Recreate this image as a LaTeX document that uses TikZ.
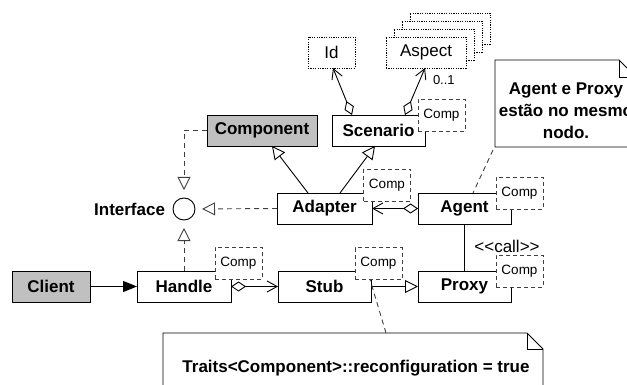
\documentclass[tikz,border=0pt]{standalone}
\usepackage{fontspec}
\setmainfont{Liberation Sans}
\usetikzlibrary{arrows.meta,calc}
\definecolor{boxgray}{HTML}{C0C0C0}
\definecolor{dashgray}{HTML}{404040}
\begin{document}
\begin{tikzpicture}[x=1pt,y=-1pt,line width=0.9pt,
  every node/.style={inner sep=0pt,outer sep=0pt},
  cls/.style={draw,fill=white,minimum height=31pt,font=\fontsize{17pt}{20pt}\selectfont\bfseries},
  grey/.style={fill=boxgray},
  compbox/.style={draw=dashgray,dashed,dash pattern=on 4pt off 3pt,fill=white,minimum width=47pt,minimum height=32pt,font=\fontsize{13.5pt}{16pt}\selectfont},
  dotbox/.style={draw,dash pattern=on 1.2pt off 1.2pt,fill=white,minimum height=31pt,font=\fontsize{17pt}{20pt}\selectfont},
  lbl/.style={font=\fontsize{17pt}{20pt}\selectfont},
  small/.style={font=\fontsize{13pt}{16pt}\selectfont},
  bold/.style={font=\fontsize{17pt}{22pt}\selectfont\bfseries},
  gen/.style={-{Triangle[length=13pt,width=13pt,fill=white]}},
  agg/.style={{Diamond[length=15pt,width=10pt,fill=white]}-{Straight Barb[length=10pt,width=11pt]}},
  dep/.style={dashed,dash pattern=on 5pt off 4pt,draw=dashgray},
  notebox/.style={draw=none}
]
\useasboundingbox (0,0) rectangle (627,385);

% interface circle
\node[circle,draw,minimum size=22pt] (iface) at (184,209) {};
\node[font=\fontsize{17pt}{20pt}\selectfont\bfseries,anchor=east] (ifacelbl) at (165,209) {Interface};

% classes
\node[cls,grey,minimum width=78pt] (client) at (51,286.5) {Client};
\node[cls,minimum width=94pt] (handle) at (184,286.5) {Handle};
\node[cls,minimum width=93pt] (stub) at (324.5,286.5) {Stub};
\node[cls,minimum width=93pt] (proxy) at (464.5,286.5) {Proxy};
\node[cls,minimum width=93pt] (agent) at (464.5,208.5) {Agent};
\node[cls,minimum width=95pt] (adapter) at (324.5,208.5) {Adapter};
\node[cls,grey,minimum width=110pt] (component) at (262,130.5) {Component};
\node[cls,minimum width=93pt] (scenario) at (378.5,130.5) {Scenario};

% Comp parameter boxes
\node[compbox] (scomp) at (441.5,115) {Comp};
\node[compbox] (adcomp) at (387,185) {Comp};
\node[compbox] (agcomp) at (519.5,193) {Comp};
\node[compbox] (prcomp) at (519.5,271) {Comp};
\node[compbox] (stcomp) at (378.5,263.5) {Comp};
\node[compbox] (hacomp) at (238.5,263) {Comp};

% Id and the stack of Aspect boxes
\node[dotbox,minimum width=47pt] (id) at (331.5,52.5) {Id};
\node[dotbox,minimum width=80pt] (aspect3) at (450,28.5) {};
\node[dotbox,minimum width=80pt] (aspect2) at (442,36.5) {};
\node[dotbox,minimum width=80pt] (aspect1) at (434,44.5) {};
\node[dotbox,minimum width=80pt] (aspect) at (426,52.5) {Aspect};
\node[small,anchor=west] (mult) at (433,80) {0..1};

% connectors
\draw[-{Triangle[length=14pt,width=11pt]}] (client.east) -- (handle.west);
\draw[agg] (handle.east) -- (stub.west);
\draw[gen] (stub.east) -- (proxy.west);
\draw (agent.south) -- (proxy.north);
\draw[agg] (agent.west) -- (adapter.east);
\draw[dep,gen,shorten >=7pt] (adapter.west) -- (iface.east);
\draw[dep,gen,shorten >=8pt] (handle.north) -- (iface.south);
\draw[dep,gen,shorten >=8pt] (component.west) -| (iface.north);
\draw[gen] ([xshift=-16.5pt]adapter.north) -- ([xshift=10pt]component.south);
\draw[gen] ([xshift=15.5pt]adapter.north) -- ([xshift=-3.5pt]scenario.south);
\draw[agg] ([xshift=-26.5pt]scenario.north) -- ([xshift=1.5pt]id.south);
\draw[agg] ([xshift=26.5pt]scenario.north) -- ([xshift=-1pt]aspect.south);

\node[lbl,anchor=center] (calllbl) at (507,246) {<{}<call>{}>};

% note attached to Agent
\node[notebox,minimum width=141pt,minimum height=87pt] (note1) at (565.5,103.5) {};
\draw[fill=white] (note1.south west) -- (note1.north west) -- ([xshift=-17pt]note1.north east)
  -- ([yshift=-17pt]note1.north east) -- (note1.south east) -- cycle;
\draw ([xshift=-17pt]note1.north east) |- ([yshift=-17pt]note1.north east);
\node[bold,align=center] (note1txt) at (566,111) {Agent e Proxy\\estão no mesmo\\nodo.};
\draw[dep] ([xshift=-2pt,yshift=-3pt]note1.south west) -- ([xshift=8.5pt]agent.north);

% note attached to Stub
\node[notebox,minimum width=380pt,minimum height=64pt] (note2) at (353,365) {};
\draw[fill=white] (note2.south west) -- (note2.north west) -- ([xshift=-16pt]note2.north east)
  -- ([yshift=-16pt]note2.north east) -- (note2.south east) -- cycle;
\draw ([xshift=-16pt]note2.north east) |- ([yshift=-16pt]note2.north east);
\node[bold] (note2txt) at (356,368) {Traits<Component>::reconfiguration = true};
\draw[dep] ([xshift=33pt]note2.north) -- ([xshift=-8.5pt]stcomp.south);
\end{tikzpicture}
\end{document}
